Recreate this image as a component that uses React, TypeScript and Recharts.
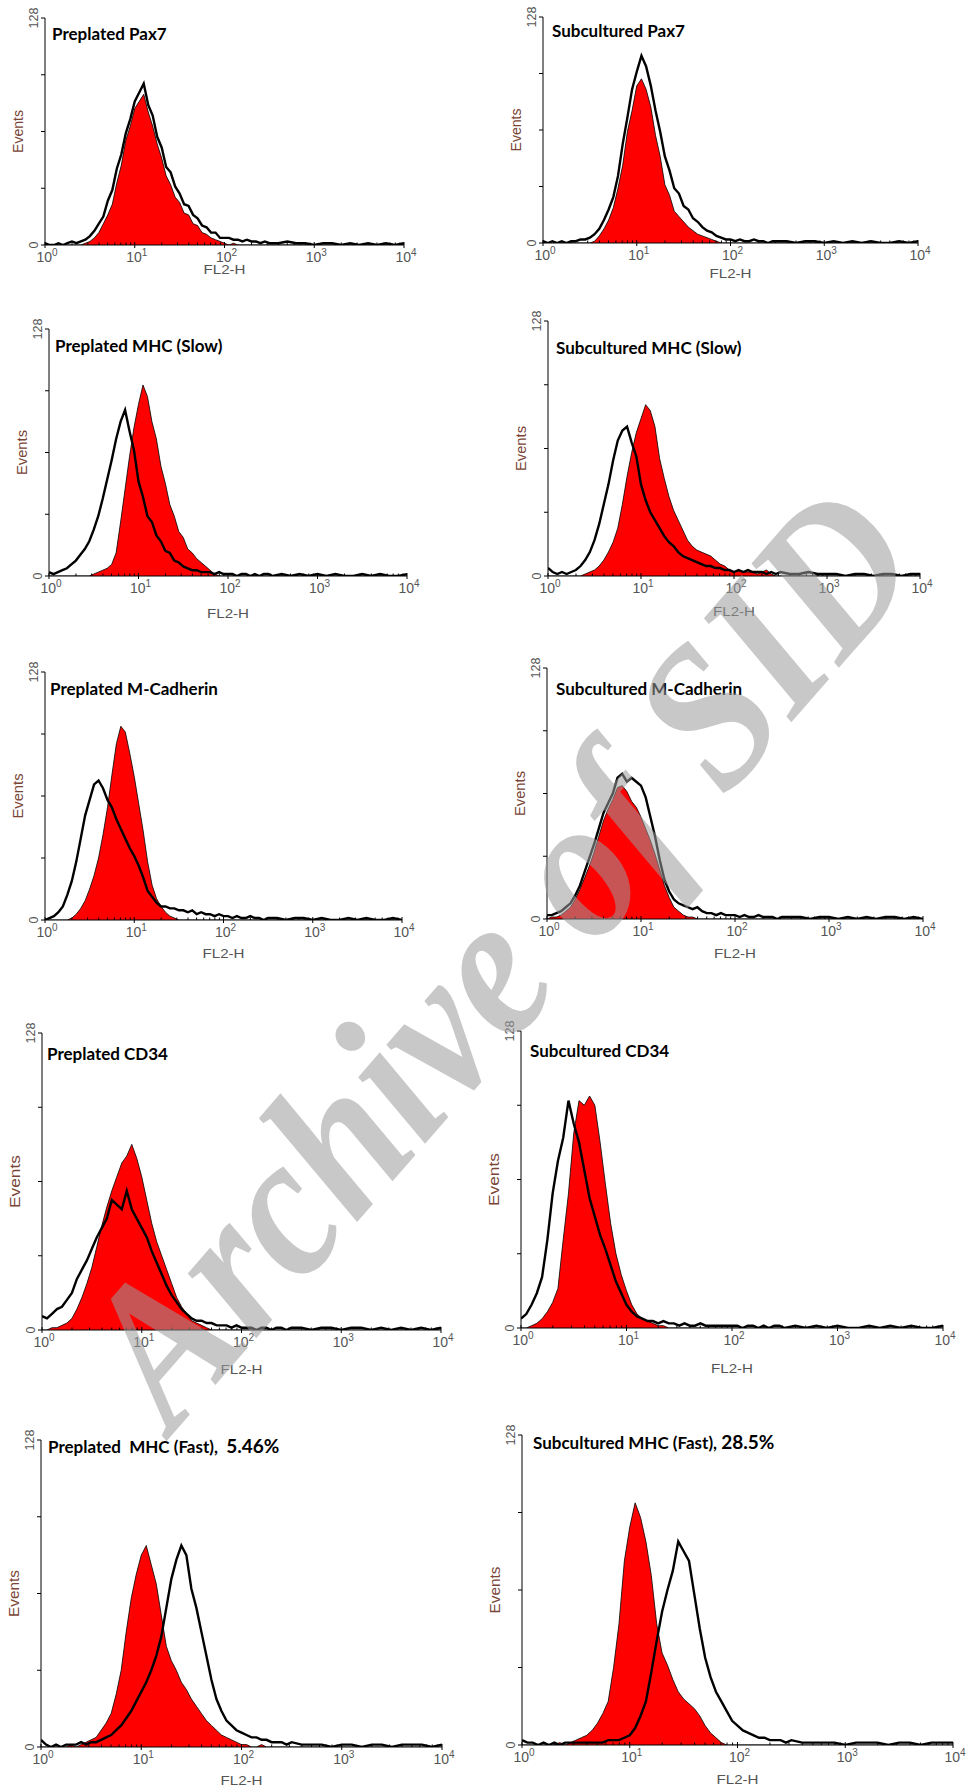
import { ComposedChart, Area, Line, XAxis, YAxis } from 'recharts';

// FL2-H channel, in log10 units (10^0 .. 10^4)
const X_LOG = [
  0, 0.05, 0.1, 0.15, 0.2, 0.25, 0.3, 0.35, 0.4, 0.45,
  0.5, 0.55, 0.6, 0.65, 0.7, 0.75, 0.8, 0.85, 0.9, 0.95,
  1, 1.05, 1.1, 1.15, 1.2, 1.25, 1.3, 1.35, 1.4, 1.45,
  1.5, 1.55, 1.6, 1.65, 1.7, 1.75, 1.8, 1.85, 1.9, 1.95,
  2, 2.05, 2.1, 2.15, 2.2, 2.25, 2.3, 2.35, 2.4, 2.45,
  2.5, 2.6, 2.7, 2.8, 2.9, 3, 3.1, 3.2, 3.3, 3.4, 3.5, 3.6, 3.7, 3.8, 3.9, 4,
];

const X_MAJOR = [0, 1, 2, 3, 4];
const X_EXP = ['0', '1', '2', '3', '4'];
const Y_TICKS = [0, 32, 64, 96, 128];
const Y_LABELS = [0, 128];

const Z15 = [0, 0, 0, 0, 0, 0, 0, 0, 0, 0, 0, 0, 0, 0, 0];

// Events per channel: red = filled histogram, black = open histogram
const PAX7_PRE_RED = [
  0, 0, 0, 0, 0, 0, 0, 0, 0, 1, 2, 4, 7, 12, 17, 23, 35, 45, 59, 67,
  77, 81, 85, 75, 67, 57, 49, 39, 34, 27, 24, 18, 17, 12, 11, 7, 6, 4, 3, 2,
  1, 0, 1, 0, 0, 0, 0, 0, 0, 0, 0, ...Z15,
];
const PAX7_PRE_BLACK = [
  1, 0, 0, 1, 0, 1, 2, 1, 2, 3, 5, 8, 12, 16, 25, 31, 43, 51, 63, 71,
  81, 86, 91, 79, 73, 61, 55, 44, 41, 33, 29, 23, 22, 17, 15, 11, 10, 7, 7, 4,
  4, 4, 3, 3, 2, 3, 2, 2, 1, 2, 1, 1, 2, 1, 1, 0, 1, 1, 0, 1, 0, 1, 0, 1, 0, 1,
];

const PAX7_SUB_RED = [
  0, 0, 0, 0, 0, 0, 0, 0, 0, 0, 0, 1, 4, 8, 13, 20, 31, 44, 63, 75,
  89, 93, 87, 77, 61, 49, 33, 27, 18, 15, 12, 9, 7, 5, 4, 3, 2, 1, 0, 0,
  0, 0, 0, 0, 0, 0, 0, 0, 0, 0, 0, ...Z15,
];
const PAX7_SUB_BLACK = [
  1, 0, 1, 0, 1, 0, 1, 1, 2, 2, 3, 5, 8, 13, 19, 26, 38, 56, 71, 87,
  97, 106, 100, 89, 75, 63, 49, 41, 31, 28, 21, 19, 14, 12, 9, 7, 6, 4, 3, 2,
  2, 1, 2, 1, 1, 2, 1, 1, 0, 1, 1, 1, 0, 1, 1, 0, 1, 0, 1, 0, 1, 0, 0, 1, 0, 1,
];

const SLOW_PRE_RED = [
  0, 0, 0, 0, 0, 0, 0, 0, 0, 0, 1, 2, 3, 4, 6, 12, 28, 45, 62, 77,
  89, 99, 93, 80, 71, 57, 48, 37, 31, 23, 20, 14, 12, 9, 7, 5, 3, 1, 0, 0,
  0, 0, 0, 0, 0, 0, 0, 0, 0, 0, 0, ...Z15,
];
const SLOW_PRE_BLACK = [
  2, 1, 2, 3, 4, 6, 8, 11, 14, 18, 24, 31, 40, 50, 60, 71, 80, 86, 75, 65,
  49, 41, 31, 28, 21, 18, 13, 12, 8, 7, 5, 4, 3, 3, 2, 2, 2, 1, 2, 1,
  1, 1, 0, 1, 1, 0, 1, 0, 1, 1, 0, 1, 0, 1, 0, 1, 0, 1, 0, 0, 1, 0, 1, 0, 0, 1,
];

const SLOW_SUB_RED = [
  0, 0, 0, 0, 0, 0, 0, 0, 1, 2, 3, 5, 8, 12, 17, 24, 36, 50, 62, 72,
  79, 86, 83, 75, 59, 49, 40, 33, 28, 23, 18, 15, 13, 12, 11, 10, 8, 6, 5, 3,
  2, 3, 2, 2, 2, 1, 2, 3, 1, 0, 0, ...Z15,
];
const SLOW_SUB_BLACK = [
  4, 2, 1, 2, 1, 2, 3, 5, 8, 12, 18, 26, 36, 46, 58, 68, 73, 75, 67, 60,
  46, 38, 32, 28, 24, 20, 17, 15, 12, 10, 9, 8, 7, 6, 5, 5, 4, 4, 3, 3,
  2, 3, 2, 3, 2, 2, 2, 1, 2, 1, 2, 1, 1, 2, 1, 1, 1, 0, 1, 1, 0, 1, 1, 0, 1, 1,
];

const MCAD_PRE_RED = [
  0, 0, 0, 0, 0, 0, 1, 3, 6, 10, 16, 23, 32, 44, 58, 75, 91, 100, 97, 86,
  74, 60, 46, 30, 18, 11, 7, 4, 2, 1, 0, 0, 0, 0, 0, 0, 0, 0, 0, 0,
  0, 0, 0, 0, 0, 0, 0, 0, 0, 0, 0, ...Z15,
];
const MCAD_PRE_BLACK = [
  0, 1, 2, 4, 7, 13, 20, 30, 42, 54, 62, 70, 72, 68, 62, 58, 52, 47, 42, 37,
  33, 28, 22, 15, 12, 9, 7, 7, 6, 6, 5, 5, 4, 5, 3, 4, 3, 3, 2, 3,
  2, 2, 1, 2, 1, 1, 2, 1, 1, 0, 1, 1, 0, 1, 1, 0, 1, 0, 0, 1, 0, 1, 0, 0, 1, 0,
];

const MCAD_SUB_RED = [
  0, 1, 1, 2, 4, 6, 10, 15, 21, 27, 34, 42, 50, 56, 61, 67, 68, 65, 60, 57,
  52, 46, 40, 33, 25, 17, 11, 6, 4, 2, 1, 1, 0, 0, 0, 0, 0, 0, 0, 0,
  0, 0, 0, 0, 0, 0, 0, 0, 0, 0, 0, ...Z15,
];
const MCAD_SUB_BLACK = [
  2, 2, 3, 4, 6, 8, 12, 17, 24, 31, 38, 46, 54, 59, 64, 72, 74, 70, 72, 70,
  68, 62, 52, 42, 30, 20, 14, 10, 8, 7, 6, 5, 6, 4, 3, 3, 2, 3, 2, 2,
  2, 1, 2, 1, 1, 2, 1, 1, 1, 0, 1, 1, 1, 0, 1, 1, 0, 1, 0, 1, 0, 1, 1, 0, 1, 0,
];

const CD34_PRE_RED = [
  0, 0, 1, 1, 2, 3, 5, 9, 14, 20, 27, 36, 45, 53, 60, 66, 72, 75, 80, 74,
  66, 56, 46, 38, 32, 26, 20, 14, 10, 7, 4, 3, 2, 1, 0, 0, 0, 0, 0, 0,
  0, 0, 0, 0, 0, 0, 0, 0, 0, 0, 0, ...Z15,
];
const CD34_PRE_BLACK = [
  6, 5, 7, 9, 10, 13, 16, 22, 26, 30, 35, 40, 44, 48, 56, 54, 52, 60, 52, 48,
  44, 40, 34, 29, 24, 19, 15, 12, 9, 7, 5, 4, 4, 3, 3, 2, 2, 2, 1, 2,
  1, 1, 1, 0, 1, 1, 0, 1, 1, 0, 1, 1, 0, 1, 1, 0, 1, 1, 0, 1, 0, 1, 0, 1, 0, 1,
];

const CD34_SUB_RED = [
  0, 0, 1, 2, 4, 7, 11, 17, 38, 58, 84, 98, 96, 100, 96, 80, 62, 45, 32, 23,
  16, 10, 6, 4, 3, 2, 1, 1, 0, 0, 0, 0, 0, 0, 0, 0, 0, 0, 0, 0,
  0, 0, 0, 0, 0, 0, 0, 0, 0, 0, 0, ...Z15,
];
const CD34_SUB_BLACK = [
  4, 6, 10, 15, 22, 38, 58, 72, 82, 98, 88, 80, 68, 56, 48, 40, 34, 27, 20, 15,
  10, 7, 5, 4, 3, 3, 2, 3, 2, 2, 1, 2, 1, 1, 2, 1, 1, 1, 1, 1,
  1, 1, 0, 1, 1, 0, 1, 0, 1, 1, 0, 1, 0, 1, 0, 1, 0, 0, 1, 0, 1, 0, 1, 0, 0, 1,
];

const FAST_PRE_RED = [
  0, 0, 0, 0, 0, 0, 1, 0, 1, 2, 3, 4, 7, 10, 14, 22, 32, 48, 62, 72,
  80, 84, 76, 68, 55, 42, 36, 32, 27, 24, 20, 17, 14, 11, 9, 7, 5, 4, 3, 2,
  1, 1, 0, 0, 1, 0, 0, 0, 0, 0, 0, ...Z15,
];
const FAST_PRE_BLACK = [
  3, 1, 0, 1, 0, 1, 1, 1, 2, 1, 2, 2, 3, 4, 5, 7, 9, 12, 15, 19,
  23, 27, 32, 38, 46, 58, 70, 78, 84, 80, 66, 58, 48, 38, 28, 20, 15, 11, 9, 7,
  6, 5, 4, 4, 3, 3, 2, 2, 2, 1, 2, 1, 1, 1, 0, 1, 1, 0, 1, 1, 0, 1, 1, 1, 0, 1,
];

const FAST_SUB_RED = [
  0, 0, 0, 0, 0, 0, 0, 1, 0, 1, 2, 3, 4, 6, 9, 13, 18, 32, 50, 76,
  90, 100, 94, 84, 70, 50, 38, 33, 27, 22, 19, 17, 15, 12, 8, 5, 3, 1, 0, 0,
  0, 0, 0, 0, 0, 0, 0, 0, 0, 0, 0, ...Z15,
];
const FAST_SUB_BLACK = [
  2, 1, 1, 0, 1, 0, 1, 0, 1, 1, 1, 1, 1, 1, 1, 1, 2, 2, 2, 3,
  4, 7, 12, 18, 30, 43, 55, 64, 72, 84, 80, 76, 62, 48, 36, 28, 22, 18, 14, 10,
  8, 6, 5, 4, 3, 3, 2, 2, 2, 1, 2, 1, 1, 1, 1, 0, 1, 1, 1, 0, 1, 1, 0, 1, 1, 1,
];

// minor ticks of the log axis (2..9 in every decade)
const X_TICKS: number[] = [];
X_MAJOR.forEach((d) => {
  X_TICKS.push(d);
  if (d < 4) [2, 3, 4, 5, 6, 7, 8, 9].forEach((m) => X_TICKS.push(d + Math.log10(m)));
});

interface Panel {
  title: string;
  pct?: string;
  red: number[];
  black: number[];
  ax: number; // y axis x
  xe: number; // end of x axis
  top: number; // y of 128
  base: number; // y of 0
  tx: number;
  ty: number;
  fl: number; // FL2-H centre y
  ev: number; // Events length
}

const PANELS: Panel[] = [
  { title: 'Preplated Pax7', red: PAX7_PRE_RED, black: PAX7_PRE_BLACK, ax: 45, xe: 404, top: 18, base: 245, tx: 52, ty: 40, fl: 268, ev: 43 },
  { title: 'Subcultured Pax7', red: PAX7_SUB_RED, black: PAX7_SUB_BLACK, ax: 543, xe: 918, top: 17, base: 243, tx: 552, ty: 37, fl: 272, ev: 43 },
  { title: 'Preplated MHC (Slow)', red: SLOW_PRE_RED, black: SLOW_PRE_BLACK, ax: 49, xe: 407, top: 329, base: 576, tx: 55, ty: 352, fl: 612, ev: 45 },
  { title: 'Subcultured MHC (Slow)', red: SLOW_SUB_RED, black: SLOW_SUB_BLACK, ax: 548, xe: 920, top: 321, base: 576, tx: 556, ty: 354, fl: 610, ev: 45 },
  { title: 'Preplated M-Cadherin', red: MCAD_PRE_RED, black: MCAD_PRE_BLACK, ax: 45, xe: 402, top: 672, base: 920, tx: 50, ty: 695, fl: 952, ev: 45 },
  { title: 'Subcultured M-Cadherin', red: MCAD_SUB_RED, black: MCAD_SUB_BLACK, ax: 547, xe: 923, top: 668, base: 919, tx: 556, ty: 695, fl: 952, ev: 45 },
  { title: 'Preplated CD34', red: CD34_PRE_RED, black: CD34_PRE_BLACK, ax: 42, xe: 441, top: 1033, base: 1330, tx: 47, ty: 1060, fl: 1368, ev: 53 },
  { title: 'Subcultured CD34', red: CD34_SUB_RED, black: CD34_SUB_BLACK, ax: 521, xe: 943, top: 1031, base: 1328, tx: 530, ty: 1057, fl: 1367, ev: 53 },
  { title: 'Preplated  MHC (Fast),  ', pct: '5.46%', red: FAST_PRE_RED, black: FAST_PRE_BLACK, ax: 41, xe: 442, top: 1440, base: 1747, tx: 48, ty: 1453, fl: 1779, ev: 47 },
  { title: 'Subcultured MHC (Fast), ', pct: '28.5%', red: FAST_SUB_RED, black: FAST_SUB_BLACK, ax: 522, xe: 953, top: 1435, base: 1745, tx: 533, ty: 1449, fl: 1778, ev: 47 },
];

const SANS = '"Liberation Sans", Arial, sans-serif';

const XTick = (props: any) => {
  const { x, y, payload } = props;
  const i = X_MAJOR.indexOf(payload.value);
  if (i < 0) return <line x1={x} x2={x} y1={y - 2.5} y2={y} stroke="#000" strokeWidth={1} />;
  return (
    <g>
      <line x1={x} x2={x} y1={y - 3} y2={y + 3} stroke="#000" strokeWidth={1} />
      <text x={x - 8.5} y={y + 16.5} fontSize={14} fill="#555" fontFamily={SANS}>
        10
        <tspan dy={-6} fontSize={10}>
          {X_EXP[i]}
        </tspan>
      </text>
    </g>
  );
};

const YTick = (props: any) => {
  const { x, y, payload } = props;
  const show = Y_LABELS.includes(payload.value);
  return (
    <g>
      <line x1={x - 4} x2={x} y1={y} y2={y} stroke="#000" strokeWidth={1} />
      {show && (
        <text
          x={x - 12}
          y={y}
          dy={4.5}
          transform={`rotate(-90 ${x - 12} ${y})`}
          textAnchor="middle"
          fontSize={12.5}
          fill="#555"
          fontFamily={SANS}
        >
          {payload.value}
        </text>
      )}
    </g>
  );
};

function Histogram({ p }: { p: Panel }) {
  const ml = 40;
  const mr = 20;
  const mt = 20;
  const mb = 40;
  const data = X_LOG.map((x, i) => ({ x, red: p.red[i], black: p.black[i] }));
  return (
    <div style={{ position: 'absolute', left: p.ax - ml, top: p.top - mt }}>
      <ComposedChart
        width={p.xe - p.ax + ml + mr}
        height={p.base - p.top + mt + mb}
        data={data}
        margin={{ top: mt, right: mr, bottom: 0, left: 0 }}
      >
        <XAxis
          dataKey="x"
          type="number"
          domain={[0, 4]}
          ticks={X_TICKS}
          interval={0}
          height={mb}
          tickSize={0}
          tickMargin={0}
          tickLine={false}
          tick={<XTick />}
          axisLine={{ stroke: '#000', strokeWidth: 1 }}
          allowDataOverflow
        />
        <YAxis
          type="number"
          domain={[0, 128]}
          ticks={Y_TICKS}
          interval={0}
          width={ml}
          tickSize={0}
          tickMargin={0}
          tickLine={false}
          tick={<YTick />}
          axisLine={{ stroke: '#000', strokeWidth: 1 }}
          allowDataOverflow
        />
        <Area
          type="linear"
          dataKey="red"
          fill="#ff0000"
          fillOpacity={1}
          stroke="#000"
          strokeWidth={0.8}
          dot={false}
          activeDot={false}
          isAnimationActive={false}
        />
        <Line
          type="linear"
          dataKey="black"
          stroke="#000"
          strokeWidth={2.4}
          dot={false}
          activeDot={false}
          isAnimationActive={false}
        />
      </ComposedChart>
    </div>
  );
}

export default function App() {
  return (
    <div style={{ position: 'absolute', left: 0, top: 0, width: 973, height: 1789, background: '#fff', overflow: 'hidden' }}>
      {PANELS.map((p) => (
        <Histogram key={p.title} p={p} />
      ))}
      <svg width={973} height={1789} style={{ position: 'absolute', left: 0, top: 0, pointerEvents: 'none' }}>
        {PANELS.map((p) => {
          const mid = (p.top + p.base) / 2;
          const ex = p.ax - 27;
          return (
            <g key={p.title}>
              <text x={p.tx} y={p.ty} fontFamily="Lato, 'Open Sans', sans-serif" fontWeight={700} fontSize={17} fill="#000" xmlSpace="preserve">
                {p.title}
                {p.pct && <tspan fontSize={19}>{p.pct}</tspan>}
              </text>
              <text
                x={ex}
                y={mid}
                dy={5}
                transform={`rotate(-90 ${ex} ${mid})`}
                textAnchor="middle"
                fontFamily={SANS}
                fontSize={15}
                textLength={p.ev}
                lengthAdjust="spacingAndGlyphs"
                fill="#7a4536"
              >
                Events
              </text>
              <text
                x={(p.ax + p.xe) / 2}
                y={p.fl + 5.5}
                textAnchor="middle"
                fontFamily={SANS}
                fontSize={13}
                textLength={42}
                lengthAdjust="spacingAndGlyphs"
                fill="#555"
              >
                FL2-H
              </text>
            </g>
          );
        })}
        <text
          x={550}
          y={1000}
          transform="rotate(-49 550 1000)"
          textAnchor="middle"
          fontFamily="'Liberation Serif', 'DejaVu Serif', serif"
          fontWeight={700}
          fontStyle="italic"
          fontSize={205}
          textLength={1150}
          lengthAdjust="spacingAndGlyphs"
          fill="#9b9b9b"
          fillOpacity={0.55}
        >
          Archive of SID
        </text>
      </svg>
    </div>
  );
}
